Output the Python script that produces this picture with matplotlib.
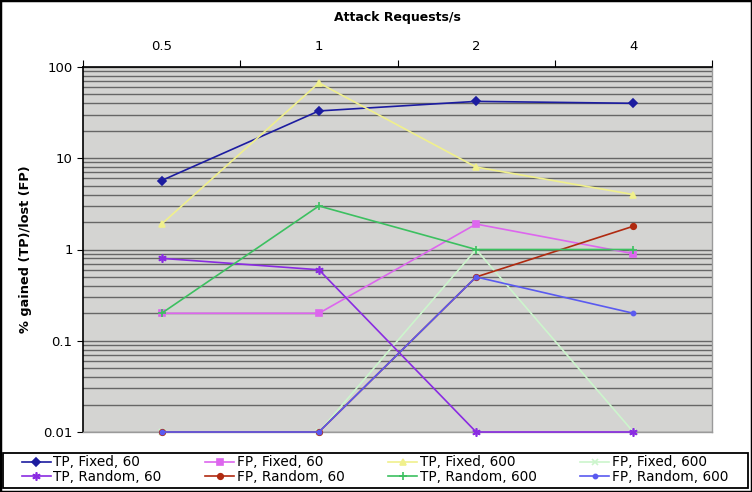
import matplotlib
matplotlib.use("Agg")
import matplotlib.pyplot as plt
from matplotlib.ticker import FixedLocator, LogLocator, NullFormatter
from matplotlib.patches import Rectangle

plt.rcParams['font.family'] = ['DejaVu Sans']

categories = ["0.5", "1", "2", "4"]
series_names = ["TP, Fixed, 60", "FP, Fixed, 60", "TP, Fixed, 600", "FP, Fixed, 600",
                "TP, Random, 60", "FP, Random, 60", "TP, Random, 600", "FP, Random, 600"]
tp_fixed_60 = [5.7, 33, 42, 40]
fp_fixed_60 = [0.2, 0.2, 1.9, 0.9]
tp_fixed_600 = [1.9, 67, 8, 4]
fp_fixed_600 = [0.01, 0.01, 1, 0.01]
tp_random_60 = [0.8, 0.6, 0.01, 0.01]
fp_random_60 = [0.01, 0.01, 0.5, 1.8]
tp_random_600 = [0.2, 3, 1, 1]
fp_random_600 = [0.01, 0.01, 0.5, 0.2]
values = [tp_fixed_60, fp_fixed_60, tp_fixed_600, fp_fixed_600,
          tp_random_60, fp_random_60, tp_random_600, fp_random_600]
ytick_labels = ["0.01", "0.1", "1", "10", "100"]

colors = ["#1c1ca0", "#dd66ee", "#f0f08c", "#ccf5cc",
          "#8a2be2", "#b02a10", "#3cc060", "#5a5af0"]
markers = ["D", "s", "^", "x", (6, 2, 0), "o", "+", "o"]
msizes = [4, 4, 5, 5, 6, 4, 6, 3]

fig = plt.figure(figsize=(7.52, 4.92), dpi=100)
ax = fig.add_axes([83/752, 1-432/492, (712-83)/752, (432-67)/492])
ax.set_facecolor("#d4d4d2")
ax.set_yscale("log")
ax.set_ylim(0.01, 100)
ax.set_xlim(-0.5, 3.5)

x = list(range(len(categories)))
handles = []
for name, vals, c, m, ms in zip(series_names, values, colors, markers, msizes):
    h, = ax.plot(x, vals, color=c, marker=m, markersize=ms, linewidth=1.2,
                 label=name, clip_on=False, zorder=3, markeredgewidth=1.2)
    handles.append(h)

ax.yaxis.set_major_locator(FixedLocator([0.01, 0.1, 1, 10, 100]))
ax.set_yticklabels(ytick_labels)
ax.yaxis.set_minor_locator(LogLocator(base=10, subs=range(2, 10)))
ax.yaxis.set_minor_formatter(NullFormatter())
ax.grid(True, which="both", axis="y", color="#666666", linewidth=1.0, zorder=1)
ax.set_axisbelow(True)
ax.tick_params(axis="y", which="minor", length=0)
ax.tick_params(axis="y", which="major", length=4, direction="out", labelsize=9.5)

ax.xaxis.tick_top()
ax.xaxis.set_label_position("top")
ax.set_xticks([-0.5, 0.5, 1.5, 2.5, 3.5])
ax.set_xticklabels([])
ax.set_xticks(x, minor=True)
ax.set_xticklabels(categories, minor=True)
ax.tick_params(axis="x", which="minor", length=0, labelsize=9.5, pad=10, top=True, bottom=False)
ax.tick_params(axis="x", which="major", length=5, direction="out", top=True, bottom=False)
ax.set_xlabel("Attack Requests/s", fontsize=9, fontweight="bold", labelpad=14)
ax.set_ylabel("% gained (TP)/lost (FP)", fontsize=9.3, fontweight="bold", labelpad=8)

for s in ["left", "top"]:
    ax.spines[s].set_color("black")
    ax.spines[s].set_linewidth(1.2)
for s in ["right", "bottom"]:
    ax.spines[s].set_color("#9a9a9a")
    ax.spines[s].set_linewidth(1.0)

order = [0, 4, 1, 5, 2, 6, 3, 7]
leg = fig.legend([handles[i] for i in order], [series_names[i] for i in order],
                 loc="lower left", bbox_to_anchor=(22/752, 8/492, 706/752, 32/492),
                 mode="expand", ncol=4, fontsize=9.8, frameon=False,
                 handlelength=2.1, handletextpad=0.2, borderpad=0.0,
                 labelspacing=0.05, borderaxespad=0.0)

fig.patches.append(Rectangle((3/752, 4/492), 745/752, 35/492, transform=fig.transFigure,
                             fill=False, edgecolor="black", linewidth=1.3, zorder=10))
fig.patches.append(Rectangle((0, 0), 1, 1, transform=fig.transFigure, fill=False,
                             edgecolor="black", linewidth=2.5, zorder=10))

fig.savefig("out.png", dpi=100)
